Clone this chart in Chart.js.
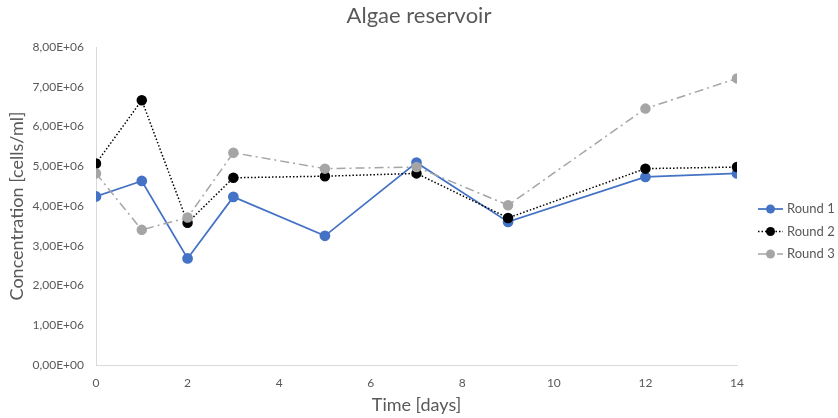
<!DOCTYPE html>
<html>
<head>
<meta charset="utf-8">
<script src="https://cdn.jsdelivr.net/npm/chart.js@4"></script>
<style>
  html, body { margin: 0; padding: 0; background: #fff; }
  #wrap { width: 838px; height: 418px; }
</style>
</head>
<body>
<div id="wrap"><canvas id="algaeChart" width="838" height="418"></canvas></div>
<script>
// data
const days = [0, 1, 2, 3, 5, 7, 9, 12, 14];
const round1 = [4.24e6, 4.63e6, 2.68e6, 4.23e6, 3.25e6, 5.09e6, 3.60e6, 4.73e6, 4.82e6];
const round2 = [5.07e6, 6.66e6, 3.58e6, 4.71e6, 4.75e6, 4.82e6, 3.70e6, 4.94e6, 4.98e6];
const round3 = [4.82e6, 3.40e6, 3.71e6, 5.34e6, 4.94e6, 4.98e6, 4.02e6, 6.45e6, 7.21e6];
const seriesNames = ['Round 1', 'Round 2', 'Round 3'];

const textColor = '#595959';
const fontFamily = 'Lato, "Open Sans", sans-serif';

function toPoints(values) {
    return days.map((d, i) => ({ x: d, y: values[i] }));
}

// 8000000 -> "8,00E+06"
function sciLabel(value) {
    if (value === 0) return '0,00E+00';
    const exp = Math.floor(Math.log10(Math.abs(value)));
    const mant = value / Math.pow(10, exp);
    return mant.toFixed(2).replace('.', ',') + 'E+' + String(exp).padStart(2, '0');
}

// legend drawn with line + marker like the original
const sideLegend = {
    id: 'sideLegend',
    afterDraw(chart) {
        const { ctx } = chart;
        const rows = [209, 231.5, 254];
        ctx.save();
        chart.data.datasets.forEach((ds, i) => {
            const y = rows[i];
            ctx.beginPath();
            ctx.setLineDash(ds.borderDash || []);
            ctx.lineWidth = ds.borderWidth;
            ctx.strokeStyle = ds.borderColor;
            ctx.moveTo(758, y);
            ctx.lineTo(783, y);
            ctx.stroke();
            ctx.setLineDash([]);
            ctx.beginPath();
            ctx.fillStyle = ds.pointBackgroundColor;
            ctx.arc(770.5, y, 4.5, 0, Math.PI * 2);
            ctx.fill();
            ctx.fillStyle = textColor;
            ctx.font = '13px ' + fontFamily;
            ctx.textAlign = 'left';
            ctx.textBaseline = 'middle';
            ctx.fillText(ds.label, 787, y);
        });
        ctx.restore();
    }
};

const data = {
    datasets: [{
        label: seriesNames[0],
        data: toPoints(round1),
        borderColor: '#4472C4',
        backgroundColor: '#4472C4',
        pointBackgroundColor: '#4472C4',
        pointBorderColor: '#4472C4',
        borderWidth: 1.75,
        order: 3
    }, {
        label: seriesNames[1],
        data: toPoints(round2),
        borderColor: '#000000',
        backgroundColor: '#000000',
        pointBackgroundColor: '#000000',
        pointBorderColor: '#000000',
        borderWidth: 1.5,
        borderDash: [1.5, 2],
        order: 2
    }, {
        label: seriesNames[2],
        data: toPoints(round3),
        borderColor: '#A5A5A5',
        backgroundColor: '#A5A5A5',
        pointBackgroundColor: '#A5A5A5',
        pointBorderColor: '#A5A5A5',
        borderWidth: 1.5,
        borderDash: [9, 4, 2, 4],
        order: 1
    }]
};

const config = {
    type: 'line',
    data: data,
    options: {
        responsive: false,
        animation: false,
        elements: {
            point: { radius: 4.5, borderWidth: 0.5, hoverRadius: 5 },
            line: { tension: 0 }
        },
        plugins: {
            legend: { display: false },
            tooltip: { enabled: false },
            title: {
                display: true,
                text: 'Algae reservoir',
                color: textColor,
                font: { family: fontFamily, size: 22, weight: 'normal' },
                padding: { top: 3, bottom: 17.6 }
            }
        },
        scales: {
            x: {
                type: 'linear',
                min: 0,
                max: 14,
                grid: { display: false, drawTicks: false },
                border: { display: true, color: '#D9D9D9', width: 1 },
                ticks: {
                    stepSize: 2,
                    padding: 11,
                    color: textColor,
                    font: { family: fontFamily, size: 12 }
                },
                title: {
                    display: true,
                    text: 'Time [days]',
                    color: textColor,
                    font: { family: fontFamily, size: 18 },
                    padding: { top: 0, bottom: 2 }
                },
                afterFit(scale) { scale.height = 53; }
            },
            y: {
                min: 0,
                max: 8e6,
                grid: { display: false, drawTicks: false },
                border: { display: true, color: '#D9D9D9', width: 1 },
                ticks: {
                    stepSize: 1e6,
                    padding: 12,
                    color: textColor,
                    font: { family: fontFamily, size: 12 },
                    callback: value => sciLabel(value)
                },
                title: {
                    display: true,
                    text: 'Concentration [cells/ml]',
                    color: textColor,
                    font: { family: fontFamily, size: 18 },
                    padding: { top: 6, bottom: 0 }
                },
                afterFit(scale) { scale.width = 96; }
            },
            // empty axis that reserves room for the legend on the right
            legendSpace: {
                type: 'linear',
                position: 'right',
                min: 0,
                max: 1,
                grid: { display: false, drawTicks: false },
                border: { display: false },
                ticks: { display: false },
                afterFit(scale) { scale.width = 101; }
            }
        }
    },
    plugins: [sideLegend]
};

const myChart = new Chart(document.getElementById('algaeChart'), config);
</script>
</body>
</html>
